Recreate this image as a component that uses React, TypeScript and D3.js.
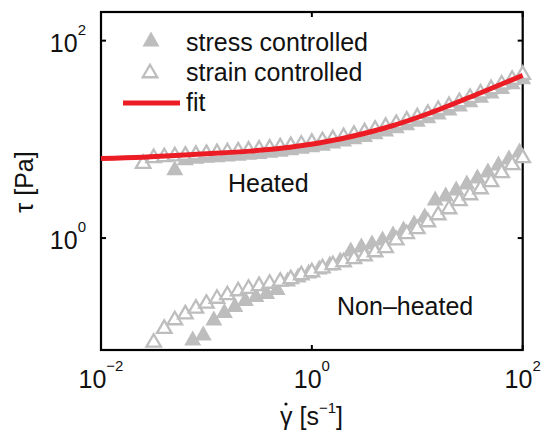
import React from "react";
import * as d3 from "d3";

// ---- data ----
const heatedStrainGamma = [0.0251, 0.0316, 0.0398, 0.0501, 0.0631, 0.0794, 0.1, 0.126, 0.158, 0.2, 0.251, 0.316, 0.398, 0.501, 0.631, 0.794, 1, 1.26, 1.58, 2.0, 2.51, 3.16, 3.98, 5.01, 6.31, 7.94, 10, 12.6, 15.8, 20, 25.1, 31.6, 39.8, 50.1, 63.1, 79.4, 100];
const heatedStrainTau = [5.95, 6.8, 6.95, 7.1, 7.2, 7.35, 7.5, 7.65, 7.8, 7.95, 8.1, 8.3, 8.5, 8.75, 9.0, 9.3, 9.7, 10.1, 10.55, 11.1, 11.7, 12.4, 13.2, 14.1, 15.1, 16.3, 17.6, 19.1, 20.9, 22.9, 25.1, 27.7, 30.7, 34.0, 37.9, 42.3, 47.5];

const heatedStressGamma = [0.0501, 0.0631, 0.0794, 0.1, 0.126, 0.158, 0.2, 0.251, 0.316, 0.398, 0.501, 0.631, 0.794, 1, 1.26, 1.58, 2.0, 2.51, 3.16, 3.98, 5.01, 6.31, 7.94, 10, 12.6, 15.8, 20, 25.1, 31.6, 39.8, 50.1, 63.1, 79.4, 100];
const heatedStressTau = [5.15, 6.5, 6.75, 6.9, 7.0, 7.1, 7.25, 7.4, 7.55, 7.75, 7.95, 8.2, 8.5, 8.8, 9.15, 9.6, 10.1, 10.6, 11.2, 11.95, 12.75, 13.7, 14.75, 15.95, 17.35, 18.95, 20.75, 22.8, 25.2, 27.9, 30.9, 34.4, 38.4, 43.0];

const nonHeatedStrainGamma = [0.0316, 0.0398, 0.0501, 0.0631, 0.0794, 0.1, 0.126, 0.158, 0.2, 0.251, 0.316, 0.398, 0.501, 0.631, 0.794, 1, 1.26, 1.58, 2.0, 2.51, 3.16, 3.98, 5.01, 6.31, 7.94, 10, 12.6, 15.8, 20, 25.1, 31.6, 39.8, 50.1, 63.1, 79.4, 100];
const nonHeatedStrainTau = [0.0918, 0.127, 0.155, 0.178, 0.203, 0.228, 0.256, 0.278, 0.305, 0.323, 0.344, 0.363, 0.381, 0.404, 0.443, 0.475, 0.521, 0.56, 0.6, 0.644, 0.69, 0.757, 0.832, 1.0, 1.153, 1.296, 1.525, 1.795, 2.065, 2.49, 2.86, 3.29, 3.88, 4.79, 5.77, 6.79];

const nonHeatedStressGamma = [0.0741, 0.0933, 0.1175, 0.148, 0.186, 0.234, 0.295, 0.372, 0.468, 0.589, 0.741, 0.933, 1.175, 1.48, 1.86, 2.34, 2.95, 3.72, 4.68, 5.89, 7.41, 9.33, 11.75, 14.8, 18.6, 23.4, 29.5, 37.2, 46.8, 58.9, 74.1, 93.3];
const nonHeatedStressTau = [0.0972, 0.109, 0.155, 0.185, 0.212, 0.244, 0.268, 0.288, 0.316, 0.385, 0.423, 0.465, 0.509, 0.56, 0.614, 0.775, 0.851, 0.913, 1.0, 1.126, 1.266, 1.455, 1.714, 2.55, 2.8, 3.22, 3.7, 4.26, 4.9, 5.77, 6.63, 7.81];

const fitGamma = [0.01, 0.025, 0.087, 0.26, 0.62, 1.85, 5.5, 13.2, 39.5, 100];
const fitTau = [6.4, 6.6, 7.1, 7.6, 8.3, 10.1, 13.5, 18.5, 29.5, 44.5];

const xTicks = [0.01, 1, 100];
const xTickExp = ["\u22122", "0", "2"];
const yTicks = [1, 100];
const yTickExp = ["0", "2"];

const legendLabels = ["stress controlled", "strain controlled", "fit"];

// ---- layout ----
const W = 544;
const H = 430;
const L = 101, R = 522.7, T = 12, B = 350;
const GRAY = "#bdbdbd";
const RED = "#ec1c24";
const INK = "#111";
const FONT = "'Liberation Sans', Arial, Helvetica, sans-serif";

const x = d3.scaleLog().domain([0.01, 100]).range([L, R]);
const y = d3.scaleLog().domain([0.0735, 195]).range([B, T]);

const TW = 17, TH = 15;
function tri(cx: number, cy: number, w: number, h: number) {
  return `M${cx},${cy - h / 2}L${cx + w / 2},${cy + h / 2}L${cx - w / 2},${cy + h / 2}Z`;
}

function Filled({ g, t }: { g: number[]; t: number[] }) {
  return (
    <g>
      {g.map((gv, i) => (
        <path key={i} d={tri(x(gv), y(t[i]), TW, TH)} fill={GRAY} />
      ))}
    </g>
  );
}
function Open({ g, t }: { g: number[]; t: number[] }) {
  return (
    <g>
      {g.map((gv, i) => (
        <path key={i} d={tri(x(gv), y(t[i]), TW - 2.5, TH - 2.5)} fill="#fff" stroke={GRAY} strokeWidth={2.3} />
      ))}
    </g>
  );
}

export default function App() {
  const fitLine = d3
    .line<number>()
    .x((d) => x(d))
    .y((_, i) => y(fitTau[i]))
    .curve(d3.curveMonotoneX)(fitGamma) as string;

  return (
    <svg width={W} height={H} style={{ position: "absolute", left: 0, top: 0, background: "#fff" }} fontFamily={FONT}>
      <rect width={W} height={H} fill="#fff" />
      {/* ticks */}
      {xTicks.map((v, i) => (
        <g key={"xt" + i}>
          <line x1={x(v)} x2={x(v)} y1={B} y2={B - 5} stroke="#000" strokeWidth={2} />
          <line x1={x(v)} x2={x(v)} y1={T} y2={T + 5} stroke="#000" strokeWidth={2} />
          <text x={x(v)} y={388} fontSize={25} textAnchor="middle" fill={INK}>
            10<tspan dy={-17} fontSize={15}>{xTickExp[i]}</tspan>
          </text>
        </g>
      ))}
      {yTicks.map((v, i) => (
        <g key={"yt" + i}>
          <line x1={L} x2={L + 5} y1={y(v)} y2={y(v)} stroke="#000" strokeWidth={2} />
          <line x1={R} x2={R - 5} y1={y(v)} y2={y(v)} stroke="#000" strokeWidth={2} />
          <text x={86} y={y(v) + 11} fontSize={25} textAnchor="end" fill={INK}>
            10<tspan dy={-17} fontSize={15}>{yTickExp[i]}</tspan>
          </text>
        </g>
      ))}
      {/* axes box */}
      <rect x={L} y={T} width={R - L} height={B - T} fill="none" stroke="#000" strokeWidth={2.2} />

      {/* data */}
      <Filled g={heatedStressGamma} t={heatedStressTau} />
      <Filled g={nonHeatedStressGamma} t={nonHeatedStressTau} />
      <Open g={heatedStrainGamma} t={heatedStrainTau} />
      <Open g={nonHeatedStrainGamma} t={nonHeatedStrainTau} />
      <path d={fitLine} fill="none" stroke={RED} strokeWidth={5} />

      {/* legend */}
      <path d={tri(151, 39, TW, TH)} fill={GRAY} />
      <path d={tri(150, 71, TW - 2.5, TH - 2.5)} fill="#fff" stroke={GRAY} strokeWidth={2.3} />
      <line x1={123} x2={180} y1={103} y2={103} stroke={RED} strokeWidth={5} />
      {legendLabels.map((s, i) => (
        <text key={s} x={186} y={51 + i * 30} fontSize={25} fill={INK}>
          {s}
        </text>
      ))}

      {/* annotations */}
      <text x={228} y={192} fontSize={25} fill={INK}>Heated</text>
      <text x={337} y={315} fontSize={25} fill={INK}>Non{"\u2013"}heated</text>

      {/* axis labels */}
      <text x={280} y={425} fontSize={25} fill={INK}>
        {"\u03B3 [s"}
        <tspan dy={-12} fontSize={15}>{"\u22121"}</tspan>
        <tspan dy={12}>]</tspan>
      </text>
      <circle cx={286} cy={404} r={1.6} fill={INK} />
      <text transform="translate(33,182) rotate(-90)" fontSize={25} textAnchor="middle" fill={INK}>
        {"\u03C4 [Pa]"}
      </text>
    </svg>
  );
}
